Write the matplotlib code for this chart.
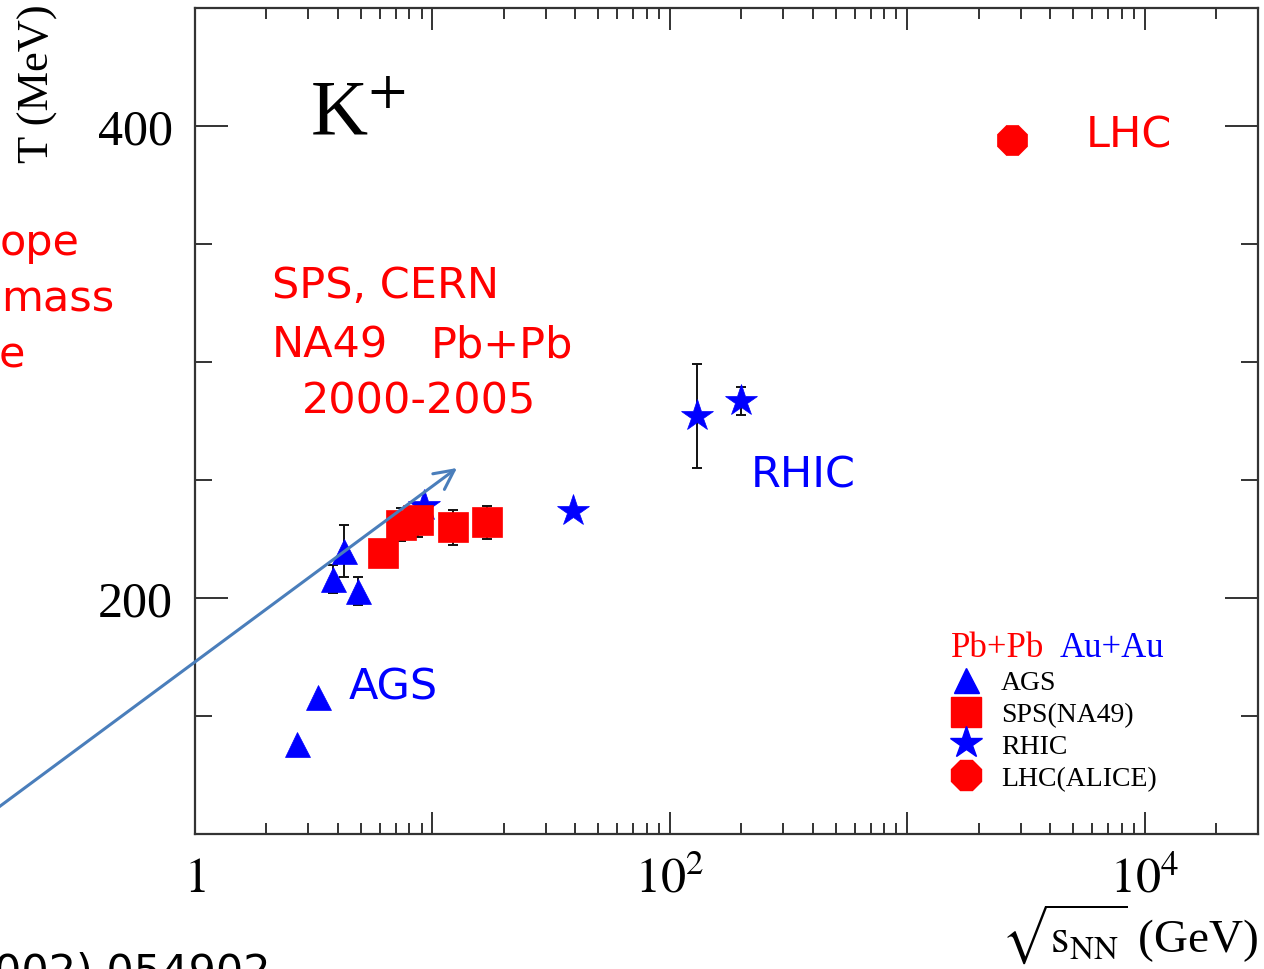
import numpy as np
import matplotlib
matplotlib.use("Agg")
import matplotlib.pyplot as plt
from matplotlib.lines import Line2D
from matplotlib.patches import FancyArrowPatch
from matplotlib.ticker import LogLocator, MultipleLocator, FuncFormatter, NullFormatter

plt.rcParams['mathtext.fontset'] = 'stix'

# data
ags_x = [2.7, 3.3, 3.8, 4.25, 4.85]
ags_T = [138, 158, 208, 220, 203]
ags_err = [0, 0, 6, 11, 6]

sps_x = [6.2, 7.4, 8.7, 12.2, 17.0]
sps_T = [219, 231, 233, 230, 232]
sps_err = [0, 7, 7, 7.5, 7]

rhic_x = [9.2, 39, 130, 200]
rhic_T = [239, 237, 277, 283.5]
rhic_err = [0, 0, 22, 6]

lhc_x = [2760]
lhc_T = [394]

xtick_vals = [1, 100, 10000]
xtick_text = ['$1$', '$10^{2}$', '$10^{4}$']

legend_labels = ['AGS', 'SPS(NA49)', 'RHIC', 'LHC(ALICE)']

BLUE = '#0000ff'
RED = '#ff0000'
W, H = 1264, 970

def fp(x, y):
    # pixel position -> figure fraction
    return x / W, 1 - y / H

fig = plt.figure(figsize=(W / 100, H / 100), dpi=100)
l, t = fp(195, 9)
r, b = fp(1258, 835)
ax = fig.add_axes([l, b, r - l, t - b])

ax.set_xscale('log')
ax.set_xlim(1, 3e4)
ax.set_ylim(100, 450)

def ebar(x, y, e):
    x, y, e = np.array(x), np.array(y), np.array(e)
    m = e > 0
    ax.errorbar(x[m], y[m], yerr=e[m], fmt='none', ecolor='#111111',
                elinewidth=1.4, capsize=3.3, capthick=1.4, zorder=2)

for xs, ys, es in [(ags_x, ags_T, ags_err), (sps_x, sps_T, sps_err), (rhic_x, rhic_T, rhic_err)]:
    ebar(xs, ys, es)

sty = dict(ls='none', mew=0.5)
ax.plot(rhic_x, rhic_T, marker='*', ms=24, color=BLUE, mec=BLUE, zorder=3, **sty)
ax.plot(ags_x, ags_T, marker='^', ms=18, color=BLUE, mec=BLUE, zorder=4, **sty)
ax.plot(sps_x, sps_T, marker='s', ms=21, color=RED, mec=RED, zorder=5, **sty)
ax.plot(lhc_x, lhc_T, marker='8', ms=23, color=RED, mec=RED, zorder=5, **sty)

# axes styling
for s in ax.spines.values():
    s.set_linewidth(1.6)
    s.set_color('#333333')

ax.xaxis.set_major_locator(LogLocator(base=10, numticks=10))
ax.xaxis.set_minor_locator(LogLocator(base=10, subs=np.arange(2, 10), numticks=20))
lab = dict(zip(xtick_vals, xtick_text))
ax.xaxis.set_major_formatter(FuncFormatter(lambda v, p: lab.get(int(round(v)), '')))
ax.xaxis.set_minor_formatter(NullFormatter())
ax.yaxis.set_major_locator(MultipleLocator(200))
ax.yaxis.set_minor_locator(MultipleLocator(50))

ax.tick_params(which='both', direction='in', top=True, right=True, color='#333333', width=1.4)
ax.tick_params(axis='x', which='major', length=16, pad=14, labelsize=36)
ax.tick_params(axis='x', which='minor', length=8)
ax.tick_params(axis='y', which='major', length=24, pad=16, labelsize=36)
ax.tick_params(axis='y', which='minor', length=12)
for tl in ax.get_yticklabels():
    tl.set_family('Liberation Serif')

# labels
fig.text(*fp(38, 84), 'T (MeV)', rotation=90, ha='center', va='center',
         family='Liberation Serif', fontsize=32)
fig.text(*fp(1258, 953), r'$\sqrt{\mathrm{s}_{\mathrm{NN}}}$ (GeV)', ha='right', va='baseline',
         family='Liberation Serif', fontsize=34)
fig.text(*fp(310, 135), r'K$^{+}$', ha='left', va='baseline',
         family='Liberation Serif', fontsize=57)

sans = dict(family='DejaVu Sans', fontsize=31, va='baseline', ha='left')
fig.text(*fp(272, 298), 'SPS, CERN', color=RED, **sans)
fig.text(*fp(272, 357), 'NA49', color=RED, **sans)
fig.text(*fp(431, 357), 'Pb+Pb', color=RED, **sans)
fig.text(*fp(302, 413), '2000-2005', color=RED, **sans)
fig.text(*fp(751, 488), 'RHIC', color=BLUE, **sans)
fig.text(*fp(349, 700), 'AGS', color=BLUE, **sans)
fig.text(*fp(1086, 147), 'LHC', color=RED, **sans)
fig.text(*fp(0, 255), 'ope', color=RED, **sans)
fig.text(*fp(1, 312), 'mass', color=RED, **sans)
fig.text(*fp(-1, 368), 'e', color=RED, **sans)
fig.text(*fp(-6, 985), '002) 054902', color='black', **sans)

# legend
handles = [
    Line2D([], [], marker='^', ms=18, color=BLUE, mec=BLUE, ls='none'),
    Line2D([], [], marker='s', ms=21, color=RED, mec=RED, ls='none'),
    Line2D([], [], marker='*', ms=24, color=BLUE, mec=BLUE, ls='none'),
    Line2D([], [], marker='8', ms=23, color=RED, mec=RED, ls='none'),
]
fig.legend(handles, legend_labels, loc='upper left', bbox_to_anchor=fp(951, 671),
           bbox_transform=fig.transFigure, frameon=False, borderpad=0, borderaxespad=0,
           handlelength=1.1, handletextpad=0.7, labelspacing=0.23,
           prop={'family': 'Liberation Serif', 'size': 20})
fig.text(*fp(951, 657), 'Pb+Pb', color=RED, family='Liberation Serif', fontsize=25,
         ha='left', va='baseline')
fig.text(*fp(1060, 657), 'Au+Au', color=BLUE, family='Liberation Serif', fontsize=25,
         ha='left', va='baseline')

# arrow drawn over the slide
arr = FancyArrowPatch(fp(-20, 822), fp(457, 469), transform=fig.transFigure,
                      arrowstyle='->,head_length=14,head_width=7', color='#4a7ebb',
                      lw=2.2, mutation_scale=1, shrinkA=0, shrinkB=0, zorder=10)
fig.add_artist(arr)

fig.savefig('out.png', dpi=100)
